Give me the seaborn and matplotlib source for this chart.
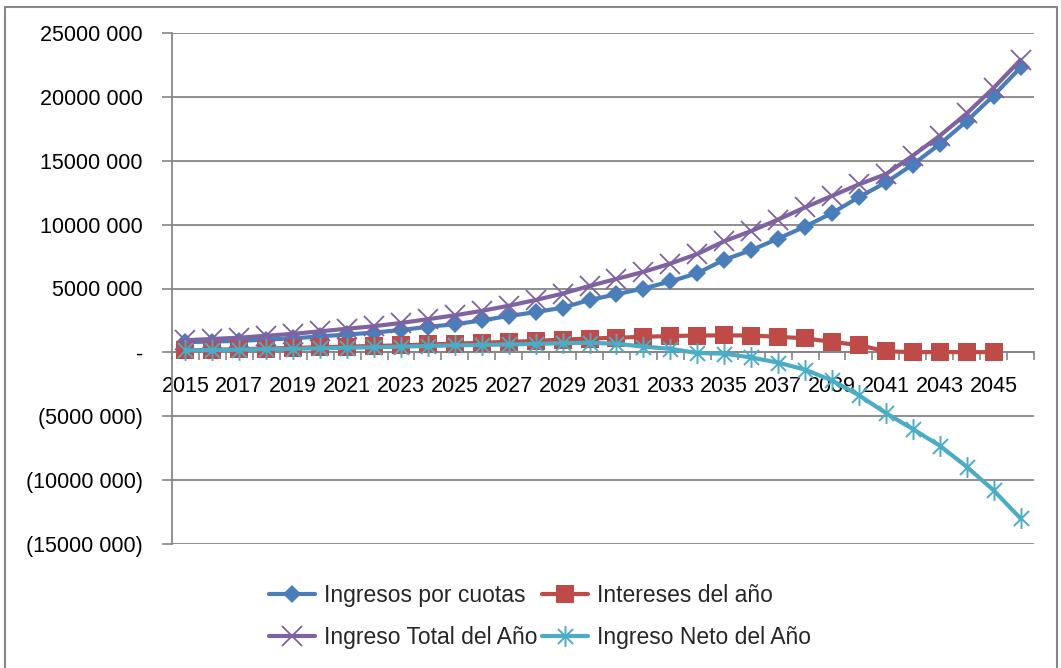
import numpy as np
import pandas as pd
import seaborn as sns
import matplotlib
matplotlib.use("Agg")
import matplotlib.pyplot as plt
from matplotlib import font_manager
from matplotlib.path import Path
from matplotlib.lines import Line2D
from matplotlib.patches import Rectangle

# ---------------- data ----------------
years = list(range(2015, 2047))

ingresos_cuotas = [0.80, 0.85, 0.90, 1.00, 1.10, 1.25, 1.40, 1.55, 1.75, 2.00,
                   2.20, 2.50, 2.85, 3.15, 3.50, 4.10, 4.55, 5.00, 5.55, 6.20,
                   7.25, 8.00, 8.90, 9.85, 10.90, 12.15, 13.30, 14.70, 16.30, 18.10,
                   20.10, 22.30]
intereses = [0.15, 0.20, 0.25, 0.30, 0.35, 0.40, 0.45, 0.50, 0.55, 0.62,
             0.68, 0.75, 0.82, 0.90, 1.00, 1.08, 1.15, 1.22, 1.28, 1.32,
             1.33, 1.32, 1.22, 1.10, 0.82, 0.57, 0.08, 0.02, 0.02, 0.02,
             0.02, np.nan]
ingreso_total = [0.95, 1.05, 1.15, 1.30, 1.45, 1.65, 1.85, 2.05, 2.30, 2.60,
                 2.90, 3.25, 3.65, 4.10, 4.60, 5.20, 5.75, 6.30, 6.95, 7.70,
                 8.70, 9.50, 10.40, 11.35, 12.25, 13.15, 13.95, 15.40, 16.95, 18.70,
                 20.70, 22.90]
ingreso_neto = [0.15, 0.18, 0.21, 0.25, 0.28, 0.32, 0.36, 0.40, 0.45, 0.50,
                0.55, 0.58, 0.62, 0.66, 0.72, 0.75, 0.68, 0.45, 0.28, -0.05,
                -0.10, -0.40, -0.80, -1.35, -2.20, -3.35, -4.75, -6.00, -7.30, -8.95,
                -10.80, -13.00]

series_names = ["Ingresos por cuotas", "Intereses del año",
                "Ingreso Total del Año", "Ingreso Neto del Año"]
y_ticks = [25e6, 20e6, 15e6, 10e6, 5e6, 0, -5e6, -10e6, -15e6]
y_tick_labels = ["25000 000", "20000 000", "15000 000", "10000 000", "5000 000",
                 "-", "(5000 000)", "(10000 000)", "(15000 000)"]

# ---------------- style ----------------
sns.set_theme(style="white")
available = {f.name for f in font_manager.fontManager.ttflist}
if "Liberation Sans Narrow" in available:
    plt.rcParams["font.family"] = ["Liberation Sans Narrow", "DejaVu Sans"]
    FS, LFS = 18.5, 18.5
else:
    plt.rcParams["font.family"] = ["Liberation Sans", "DejaVu Sans"]
    FS, LFS = 15.5, 16.5
GRAY = "#868686"

colors = ["#4A7EBB", "#BE4B48", "#7F62A1", "#4BACC6"]

ast = Path([(0, -1), (0, 1), (-0.72, -0.72), (0.72, 0.72), (-0.72, 0.72), (0.72, -0.72)],
           [Path.MOVETO, Path.LINETO, Path.MOVETO, Path.LINETO, Path.MOVETO, Path.LINETO])

styles = [
    dict(marker="D", markersize=9, markeredgewidth=0),
    dict(marker="s", markersize=13, markeredgewidth=0),
    dict(marker="x", markersize=14, markeredgewidth=1.3),
    dict(marker=ast, markersize=15, markeredgewidth=1.4),
]

fig = plt.figure(figsize=(10.61, 6.68), dpi=100)
ax = fig.add_axes([172 / 1061, 1 - 544 / 668, (1034 - 172) / 1061, (544 - 33) / 668])

idx = np.arange(len(years))
data_list = [ingresos_cuotas, intereses, ingreso_total, ingreso_neto]
for i, (vals, name) in enumerate(zip(data_list, series_names)):
    v = np.array(vals, dtype=float) * 1e6
    df = pd.DataFrame({"x": idx, "y": v}).dropna()
    sns.lineplot(data=df, x="x", y="y", ax=ax, color=colors[i], lw=3.0,
                 markeredgecolor=colors[i], zorder=3 + i, legend=False,
                 **styles[i])

ax.set_xlim(-0.5, len(years) - 0.5)
ax.set_ylim(-15e6, 25e6)
ax.set_xlabel("")
ax.set_ylabel("")

# y axis
ax.set_yticks(y_ticks)
ax.set_yticklabels(y_tick_labels, fontsize=FS, color="black")
ax.tick_params(axis="y", which="major", length=7, width=1.2, color=GRAY,
               direction="out", pad=14, left=True)
ax.yaxis.grid(True, color=GRAY, lw=1.3)
ax.xaxis.grid(False)
ax.set_axisbelow(True)

# x axis at zero
ax.spines["bottom"].set_position(("data", 0))
ax.spines["bottom"].set_color(GRAY)
ax.spines["bottom"].set_linewidth(1.3)
ax.spines["left"].set_color(GRAY)
ax.spines["left"].set_linewidth(1.3)
ax.spines["top"].set_visible(False)
ax.spines["right"].set_visible(False)

ax.set_xticks(idx[::2])
ax.set_xticklabels([str(y) for y in years[::2]], fontsize=FS, color="black")
ax.set_xticks(np.arange(-0.5, len(years), 1.0), minor=True)
ax.tick_params(axis="x", which="major", length=0, pad=17, bottom=True)
ax.tick_params(axis="x", which="minor", length=6, width=1.2, color=GRAY,
               direction="out", bottom=True)

# legend (row-wise order like the reference)
handles = [Line2D([0], [0], color=colors[i], lw=3.0, markeredgecolor=colors[i], **styles[i])
           for i in range(4)]
order = [0, 2, 1, 3]
fig.legend([handles[i] for i in order], [series_names[i] for i in order],
           loc="upper center", bbox_to_anchor=(0.509, 1 - 563 / 668), ncol=2,
           frameon=False, fontsize=LFS, handlelength=2.0, handletextpad=0.4,
           columnspacing=0.2, labelspacing=0.85)

# chart area border
fig.add_artist(Rectangle((5 / 1061, -0.05), (1057 - 5) / 1061, 1.05 - 7 / 668,
                         transform=fig.transFigure, fill=False, ec=GRAY, lw=1.5))

fig.savefig("out.png", dpi=100)
